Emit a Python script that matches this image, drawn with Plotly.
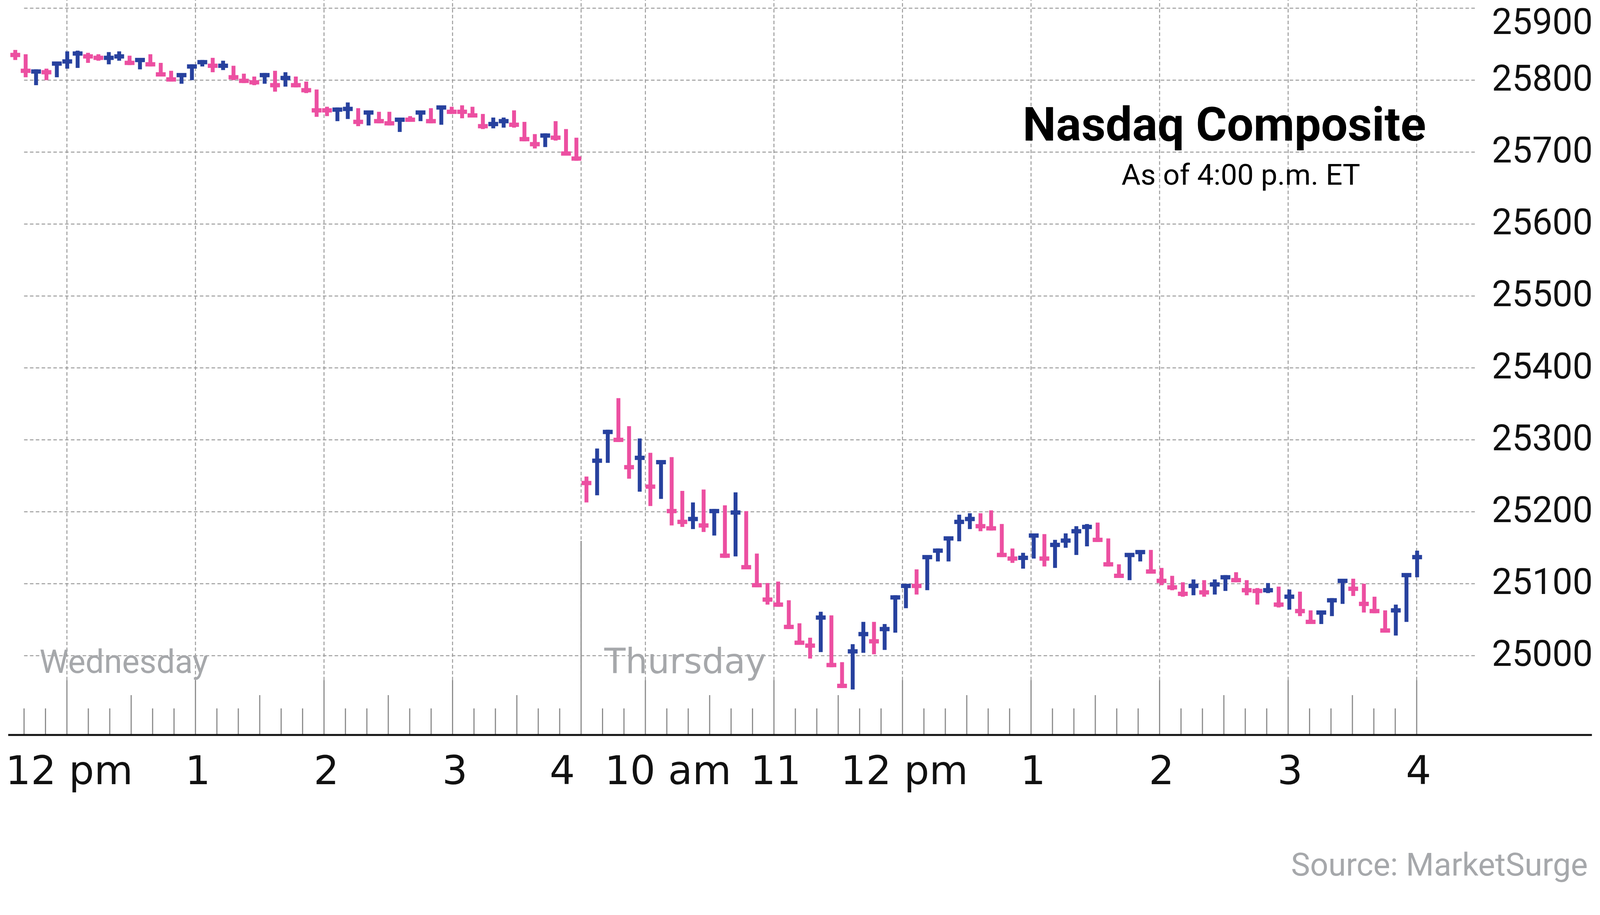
import plotly.graph_objects as go

# ---------------- data (5-minute bars) ----------------
wed_high = [25842, 25836, 25815, 25816, 25825, 25840, 25841, 25838, 25836, 25839,
            25840, 25834, 25830, 25836, 25824, 25813, 25809, 25822, 25828, 25831,
            25827, 25820, 25809, 25805, 25810, 25813, 25811, 25805, 25798, 25787,
            25763, 25762, 25769, 25761, 25757, 25756, 25756, 25747, 25750, 25757,
            25761, 25764, 25763, 25765, 25763, 25753, 25748, 25748, 25758, 25742,
            25725, 25726, 25743, 25732, 25720]
wed_low = [25828, 25804, 25793, 25800, 25804, 25816, 25817, 25824, 25827, 25822,
           25827, 25821, 25815, 25819, 25805, 25798, 25795, 25800, 25819, 25811,
           25814, 25800, 25796, 25793, 25795, 25784, 25791, 25790, 25782, 25749,
           25750, 25743, 25746, 25736, 25737, 25740, 25737, 25728, 25742, 25743,
           25740, 25738, 25753, 25747, 25748, 25732, 25733, 25734, 25734, 25715,
           25705, 25707, 25716, 25696, 25688]
wed_close = [25835, 25813, 25812, 25811, 25823, 25826, 25837, 25833, 25831, 25831,
             25833, 25824, 25828, 25822, 25808, 25801, 25807, 25819, 25825, 25820,
             25820, 25804, 25799, 25797, 25807, 25793, 25803, 25793, 25786, 25758,
             25758, 25759, 25760, 25742, 25755, 25743, 25740, 25745, 25745, 25755,
             25743, 25762, 25756, 25756, 25751, 25736, 25739, 25743, 25738, 25718,
             25711, 25723, 25720, 25698, 25691]
# u = up bar (blue), d = down bar (pink)
wed_dir = list("dduduuuddu" "ududdduuud" "udddududdd" "duududdudu" "dudddduudd" "duddd")

thu_high = [25249, 25288, 25314, 25358, 25319, 25302, 25282, 25272, 25276, 25229,
            25213, 25231, 25204, 25209, 25227, 25201, 25142, 25101, 25103, 25077,
            25045, 25025, 25061, 25056, 24991, 25016, 25047, 25047, 25044, 25084,
            25099, 25120, 25139, 25149, 25165, 25196, 25198, 25198, 25202, 25183,
            25149, 25143, 25169, 25169, 25161, 25170, 25180, 25183, 25185, 25163,
            25127, 25142, 25146, 25147, 25122, 25111, 25102, 25106, 25105, 25106,
            25112, 25116, 25105, 25094, 25101, 25096, 25092, 25089, 25063, 25062,
            25080, 25106, 25107, 25100, 25082, 25063, 25071, 25114, 25146]
thu_low = [25213, 25223, 25268, 25297, 25246, 25228, 25208, 25218, 25181, 25179,
           25176, 25172, 25167, 25136, 25138, 25121, 25095, 25071, 25068, 25037,
           25016, 24996, 25005, 24984, 24955, 24953, 25004, 25002, 25008, 25032,
           25066, 25085, 25091, 25131, 25131, 25159, 25176, 25173, 25174, 25137,
           25129, 25121, 25135, 25124, 25122, 25150, 25140, 25152, 25158, 25124,
           25108, 25105, 25131, 25114, 25098, 25091, 25082, 25084, 25082, 25085,
           25090, 25102, 25084, 25071, 25087, 25067, 25064, 25055, 25045, 25044,
           25055, 25072, 25083, 25060, 25059, 25032, 25028, 25047, 25109]
thu_close = [25240, 25271, 25311, 25300, 25262, 25275, 25235, 25269, 25201, 25186,
             25190, 25181, 25201, 25139, 25199, 25123, 25098, 25078, 25071, 25040,
             25018, 25014, 25053, 24987, 24958, 25006, 25030, 25020, 25037, 25081,
             25097, 25097, 25137, 25146, 25163, 25186, 25190, 25180, 25177, 25140,
             25135, 25136, 25167, 25135, 25154, 25160, 25173, 25179, 25161, 25127,
             25111, 25140, 25144, 25117, 25104, 25095, 25086, 25097, 25088, 25099,
             25109, 25105, 25091, 25090, 25091, 25071, 25082, 25062, 25047, 25060,
             25077, 25104, 25093, 25072, 25062, 25035, 25063, 25112, 25137]
thu_dir = list("duuddududd" "udududdddd" "ddudduuduu" "uduuuuuddd"
               "duuduuuudd" "duuddddudu" "udddududdu" "uudddduuu")

assert len(wed_dir) == len(wed_close) == len(wed_high) == len(wed_low)
assert len(thu_dir) == len(thu_close) == len(thu_high) == len(thu_low)

y_ticks = [25000, 25100, 25200, 25300, 25400, 25500, 25600, 25700, 25800, 25900]
wed_label_times = ["12:00", "13:00", "14:00", "15:00", "16:00"]
wed_label_text = ["12 pm", "1", "2", "3", "4"]
thu_label_times = ["10:00", "11:00", "12:00", "13:00", "14:00", "15:00", "16:00"]
thu_label_text = ["10 am", "11", "12 pm", "1", "2", "3", "4"]

# ---------------- axis mapping: chart minutes (Wed 11:00 = 0, Thu 9:30 = Wed 16:00) ----
def wed_m(t):
    h, mm = t.split(":")
    return (int(h) - 11) * 60 + int(mm)

def thu_m(t):
    h, mm = t.split(":")
    return 300 + int(h) * 60 + int(mm) - 570

# bar slots as laid out on the source chart (first/last bar centres, in chart minutes)
WED_FIRST, WED_LAST = 35.9, 297.8
THU_FIRST, THU_LAST = 302.5, 690.2
nw, nt = len(wed_close), len(thu_close)
wed_x = [WED_FIRST + i * (WED_LAST - WED_FIRST) / (nw - 1) for i in range(nw)]
thu_x = [THU_FIRST + i * (THU_LAST - THU_FIRST) / (nt - 1) for i in range(nt)]

xs = wed_x + thu_x
highs = wed_high + thu_high
lows = wed_low + thu_low
closes = wed_close + thu_close
dirs = wed_dir + thu_dir

BLUE = "#27419e"
PINK = "#ec4fa1"

fig = go.Figure()
for d, col in (("u", BLUE), ("d", PINK)):
    lx, ly, mx, my = [], [], [], []
    for x, h, l, c, dd in zip(xs, highs, lows, closes, dirs):
        if dd != d:
            continue
        lx += [x, x, None]
        ly += [l, h, None]
        mx.append(x)
        my.append(c)
    fig.add_trace(go.Scatter(x=lx, y=ly, mode="lines", line=dict(color=col, width=10),
                             hoverinfo="skip", showlegend=False))
    fig.add_trace(go.Scatter(x=mx, y=my, mode="markers",
                             marker=dict(symbol="line-ew", size=18,
                                         line=dict(color=col, width=11)),
                             hoverinfo="skip", showlegend=False))

# ---------------- layout geometry (the page viewport is 4096 px wide) ----------------
W, H = 4096, 2343
SX = W / 4157.0          # horizontal fit of the 4157-px design into the viewport
ML = round(21 * SX)
PR = round(3833 * SX)    # right edge of plotting area
MR = W - PR
MT, MB = 0, 461
PH = H - MT - MB
PW = W - ML - MR
X_RANGE = [32.6, 717.4]
Y_RANGE = [24889.8, 25911.4]

def px_x(px):            # design px (4157 frame) -> paper x
    return (px * SX - ML) / PW

def px_y(py):            # design px -> paper y
    return 1 - (py - MT) / PH

GRID = "#9b9b9b"
TICK = "#8c8c8c"
shapes = []
for v in y_ticks:
    shapes.append(dict(type="line", xref="x", yref="y", x0=40, x1=X_RANGE[1], y0=v, y1=v,
                       line=dict(color=GRID, width=2.5, dash="9px,6px"), layer="below"))
hours = [wed_m(t) for t in wed_label_times] + [thu_m(t) for t in thu_label_times]
for m in hours:
    shapes.append(dict(type="line", xref="x", yref="paper", x0=m, x1=m, y0=140 / PH, y1=1,
                       line=dict(color=GRID, width=2.5, dash="9px,6px"), layer="below"))
for m in range(40, 691, 10):
    if m == 300:
        continue
    clock = 11 * 60 + m if m <= 300 else 570 + (m - 300)
    if clock % 60 == 0:
        ln = 140
    elif clock % 30 == 0:
        ln = 102
    else:
        ln = 68
    shapes.append(dict(type="line", xref="x", yref="paper", x0=m, x1=m, y0=0, y1=ln / PH,
                       line=dict(color=TICK, width=3), layer="below"))
# day separator
shapes.append(dict(type="line", xref="x", yref="paper", x0=300, x1=300, y0=0, y1=497 / PH,
                   line=dict(color=TICK, width=3), layer="below"))
# baseline
shapes.append(dict(type="line", xref="paper", yref="paper", x0=0, x1=px_x(4136),
                   y0=0, y1=0, line=dict(color="#111111", width=5), layer="above"))

ann = []
YLAB_FONT = dict(family="Roboto", size=92, color="#111111")
for v in y_ticks:
    if v == y_ticks[-1]:
        ann.append(dict(x=px_x(4141), y=1, xref="paper", yref="paper", xanchor="right",
                        yanchor="top", text=str(v), showarrow=False, font=YLAB_FONT))
    else:
        ann.append(dict(x=px_x(4141), y=v, xref="paper", yref="y", xanchor="right",
                        yanchor="middle", yshift=5, text=str(v), showarrow=False, font=YLAB_FONT))
XLAB_FONT = dict(family="DejaVu Sans", size=102, color="#111111")
for t, s in zip(wed_label_times, wed_label_text):
    shift = -48 if t == "16:00" else 6
    ann.append(dict(x=wed_m(t), y=px_y(1972), xref="x", yref="paper", xanchor="center",
                    yanchor="middle", xshift=shift, text=s, showarrow=False, font=XLAB_FONT))
for t, s in zip(thu_label_times, thu_label_text):
    shift = 58 if t == "10:00" else 5
    ann.append(dict(x=thu_m(t), y=px_y(1972), xref="x", yref="paper", xanchor="center",
                    yanchor="middle", xshift=shift, text=s, showarrow=False, font=XLAB_FONT))
ann.append(dict(x=px_x(322), y=px_y(1694), xref="paper", yref="paper", xanchor="center",
                yanchor="middle", text="Wednesday", showarrow=False,
                font=dict(family="Roboto", size=84, color="#a6a8ab")))
ann.append(dict(x=px_x(1780), y=px_y(1693), xref="paper", yref="paper", xanchor="center",
                yanchor="middle", text="Thursday", showarrow=False,
                font=dict(family="DejaVu Sans", size=89, color="#a6a8ab")))
ann.append(dict(x=px_x(3181), y=px_y(319), xref="paper", yref="paper", xanchor="center",
                yanchor="middle", text="<b>Nasdaq Composite</b>", showarrow=False,
                font=dict(family="Roboto", size=121, color="#000000")))
ann.append(dict(x=px_x(3224), y=px_y(447), xref="paper", yref="paper", xanchor="center",
                yanchor="middle", text="As of 4:00 p.m. ET", showarrow=False,
                font=dict(family="Roboto", size=75, color="#000000")))
ann.append(dict(x=px_x(4128), y=px_y(2214), xref="paper", yref="paper", xanchor="right",
                yanchor="middle", text="Source: MarketSurge", showarrow=False,
                font=dict(family="Roboto", size=82, color="#a6a8ab")))

fig.update_layout(
    width=W, height=H,
    margin=dict(l=ML, r=MR, t=MT, b=MB, pad=0),
    plot_bgcolor="white", paper_bgcolor="white",
    showlegend=False,
    xaxis=dict(range=X_RANGE, showgrid=False, zeroline=False, showticklabels=False,
               ticks="", showline=False, fixedrange=True),
    yaxis=dict(range=Y_RANGE, showgrid=False, zeroline=False, showticklabels=False,
               ticks="", showline=False, fixedrange=True),
    shapes=shapes, annotations=ann,
)

page_fix = ("document.body.style.margin='0';document.body.style.overflow='hidden';"
            "document.documentElement.style.overflow='hidden';")
fig.write_html("out.html", post_script=page_fix, config={"displayModeBar": False})
